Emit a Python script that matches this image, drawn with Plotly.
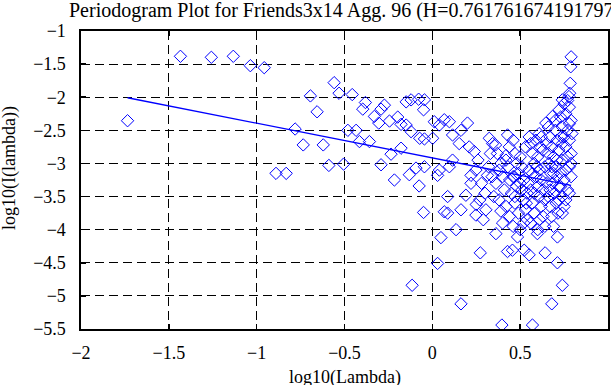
import plotly.graph_objects as go

# ---- data ----
# individually readable periodogram points (log10 frequency, log10 power)
lam_sparse = [-1.735, -1.434, -1.258, -1.133, -1.036, -0.957, -0.890, -0.832, -0.781, -0.735,
              -0.694, -0.656, -0.621, -0.589, -0.559, -0.531, -0.505, -0.481, -0.456, -0.434,
              -0.415, -0.396, -0.381, -0.358, -0.330, -0.305, -0.292, -0.292, -0.273, -0.244,
              -0.235, -0.216, -0.197, -0.178, -0.178, -0.149, -0.149, -0.131, -0.121, -0.121,
              -0.115, -0.093, -0.075, -0.078, -0.072, -0.050, -0.050, -0.045, -0.045, -0.045]
pow_sparse = [-2.355, -1.382, -1.397, -1.382, -1.524, -1.554, -3.15, -3.15, -2.48, -2.72,
              -1.98, -2.22, -2.72, -3.03, -1.78, -1.94, -3.01, -2.50, -1.96, -2.50,
              -2.67, -2.18, -2.08, -2.67, -2.29, -2.39, -2.18, -3.02, -2.12, -2.36,
              -2.86, -3.25, -2.30, -2.41, -2.77, -2.42, -2.07, -3.17, -2.52, -2.04,
              -4.84, -3.07, -3.34, -2.03, -2.62, -3.74, -2.19, -3.05, -2.63, -2.04]

lam_mid = [0.002, 0.011, 0.040, 0.068, 0.097, 0.200, 0.115, 0.163, 0.153, 0.210,
           0.239, 0.324, 0.343, 0.428, 0.438, 0.040, 0.030, 0.097, 0.115, 0.220,
           0.248, 0.314, 0.381, 0.419, 0.466, 0.362, 0.191, 0.087, 0.068, 0.087,
           0.163, 0.049, 0.135, 0.273, 0.030, 0.163, 0.396, 0.248, 0.305, 0.362,
           0.428, 0.456, 0.570, 0.680, 0.740, 0.712, 0.642, 0.551, 0.523, 0.712,
           0.598, 0.485, 0.740, 0.551, 0.608, 0.646, 0.684, 0.722, 0.740, 0.778,
           0.785, 0.788, 0.790, 0.782]
pow_mid = [-2.62, -2.37, -2.42, -2.34, -2.37, -2.39, -2.57, -2.50, -2.70, -2.75,
           -2.82, -2.62, -2.70, -2.57, -2.75, -3.10, -3.18, -3.05, -2.95, -3.18,
           -3.10, -3.18, -3.10, -2.95, -3.20, -3.30, -3.48, -3.50, -3.73, -3.75,
           -3.70, -4.12, -4.00, -4.35, -4.51, -5.12, -5.44, -3.78, -3.70, -4.06,
           -4.33, -4.31, -5.44, -5.12, -4.84, -4.50, -4.35, -4.38, -4.31, -4.11,
           -4.06, -4.11, -3.75, -2.60, -2.55, -2.39, -2.29, -2.19, -2.04, -1.99,
           -1.79, -1.54, -1.39, -1.94]

# dense cloud at high frequencies
lam_dense = [0.26, 0.28, 0.30, 0.22, 0.33, 0.27, 0.32, 0.29, 0.35, 0.34, 0.25,
             0.37, 0.39, 0.40, 0.41, 0.38, 0.42, 0.44, 0.40, 0.43, 0.45, 0.36, 0.44, 0.39, 0.42,
             0.46, 0.47, 0.48, 0.49, 0.50, 0.51, 0.52, 0.53, 0.54, 0.46, 0.47, 0.48, 0.49,
             0.50, 0.51, 0.52, 0.53, 0.54, 0.55, 0.47, 0.50, 0.52, 0.545, 0.46, 0.535,
             0.56, 0.57, 0.58, 0.59, 0.60, 0.61, 0.62, 0.63, 0.64, 0.56, 0.57, 0.58, 0.59,
             0.60, 0.61, 0.62, 0.63, 0.64, 0.65, 0.56, 0.58, 0.60, 0.62, 0.64, 0.65, 0.57,
             0.61, 0.63, 0.595, 0.615,
             0.66, 0.67, 0.68, 0.69, 0.70, 0.71, 0.72, 0.66, 0.67, 0.68, 0.69, 0.70, 0.71,
             0.72, 0.665, 0.675, 0.685, 0.695, 0.705, 0.715, 0.70, 0.69, 0.66, 0.72, 0.68,
             0.71, 0.67,
             0.73, 0.74, 0.75, 0.76, 0.77, 0.78, 0.79, 0.73, 0.74, 0.75, 0.76, 0.77, 0.78,
             0.79, 0.76, 0.75, 0.77, 0.78, 0.79, 0.74, 0.73, 0.75, 0.78, 0.79, 0.795, 0.77,
             0.76, 0.74, 0.78, 0.735]
pow_dense = [-2.95, -3.30, -3.45, -3.30, -2.85, -3.55, -3.05, -3.85, -3.50, -3.20, -3.62,
             -2.85, -3.00, -3.20, -3.40, -3.55, -3.65, -3.80, -3.90, -3.05, -3.45, -2.72, -3.25, -3.72, -2.88,
             -2.65, -2.85, -3.00, -3.15, -3.30, -3.40, -3.55, -3.70, -3.85, -3.95, -3.60, -3.35, -3.75,
             -2.90, -3.05, -3.25, -2.75, -3.45, -3.10, -3.50, -4.00, -3.90, -3.30, -3.20, -3.60,
             -2.70, -2.85, -3.00, -3.20, -3.35, -3.50, -3.65, -3.80, -3.95, -3.40, -3.60, -3.75, -2.65,
             -2.90, -3.10, -3.25, -2.80, -3.05, -3.30, -3.90, -3.45, -4.00, -2.60, -3.55, -2.70, -3.15,
             -3.85, -3.40, -3.05, -2.75,
             -2.45, -2.60, -2.75, -2.90, -3.05, -3.20, -3.35, -3.50, -3.65, -3.80, -3.95, -2.50, -2.65,
             -2.80, -3.00, -3.15, -3.30, -3.45, -3.60, -3.75, -2.35, -3.15, -2.85, -3.55, -3.05,
             -2.95, -3.40,
             -2.30, -2.45, -2.60, -2.75, -2.90, -3.05, -3.20, -3.35, -3.50, -3.65, -3.10, -3.40, -2.15,
             -2.35, -2.25, -2.10, -2.50, -2.65, -2.85, -2.95, -3.15, -3.25, -3.45, -3.00, -2.55, -2.05,
             -3.55, -2.70, -2.40, -2.60]

# least-squares fit line (endpoints)
fit_lam = [-1.735, 0.790]
fit_pow = [-2.008, -3.330]

title_text = "Periodogram Plot for Friends3x14 Agg. 96 (H=0.761761674191797)"
x_label = "log10(Lambda)"
y_label = "log10(I(lambda))"

FONT = "Liberation Serif"

fig = go.Figure()
fig.add_trace(go.Scatter(
    x=lam_sparse + lam_mid + lam_dense,
    y=pow_sparse + pow_mid + pow_dense,
    mode="markers",
    marker=dict(symbol="diamond-open", size=9.5, color="#0000ff",
                line=dict(width=1, color="#0000ff")),
    showlegend=False, hoverinfo="skip"))
fig.add_trace(go.Scatter(
    x=fit_lam, y=fit_pow, mode="lines",
    line=dict(color="#0000ff", width=1.3),
    showlegend=False, hoverinfo="skip"))

axis_common = dict(
    automargin=False,
    showline=True, linecolor="black", linewidth=1.6, mirror="ticks",
    ticks="inside", ticklen=5, tickwidth=1.6, tickcolor="black",
    showgrid=True, gridcolor="black", gridwidth=1, griddash="9px,5px",
    zeroline=False, tickfont=dict(family=FONT, size=18, color="black"),
    dtick=0.5,
)

fig.update_xaxes(range=[-2, 1], tick0=-2, ticklabelstandoff=7, **axis_common)
fig.update_yaxes(range=[-5.5, -1], tick0=-5.5, ticklabelstandoff=10, **axis_common)

fig.update_layout(
    width=611, height=385,
    margin=dict(l=81, r=3, t=31, b=56, autoexpand=False),
    paper_bgcolor="white", plot_bgcolor="white",
    font=dict(family=FONT, color="black"),
    hovermode=False,
    annotations=[
        dict(text=title_text, xref="paper", yref="paper", x=0.5, y=1,
             xanchor="center", yanchor="middle", yshift=21, showarrow=False,
             font=dict(family=FONT, size=20, color="black")),
        dict(text=x_label, xref="paper", yref="paper", x=0.5, y=0,
             xanchor="center", yanchor="middle", yshift=-48, showarrow=False,
             font=dict(family=FONT, size=18, color="black")),
        dict(text=y_label, xref="paper", yref="paper", x=0, y=0.5,
             xanchor="center", yanchor="middle", xshift=-72, yshift=12,
             textangle=-90, showarrow=False,
             font=dict(family=FONT, size=18, color="black")),
    ],
)

fig.write_html(
    "out.html",
    config={"displayModeBar": False, "staticPlot": True},
    post_script="document.body.style.margin='0';document.body.style.padding='0';",
)
